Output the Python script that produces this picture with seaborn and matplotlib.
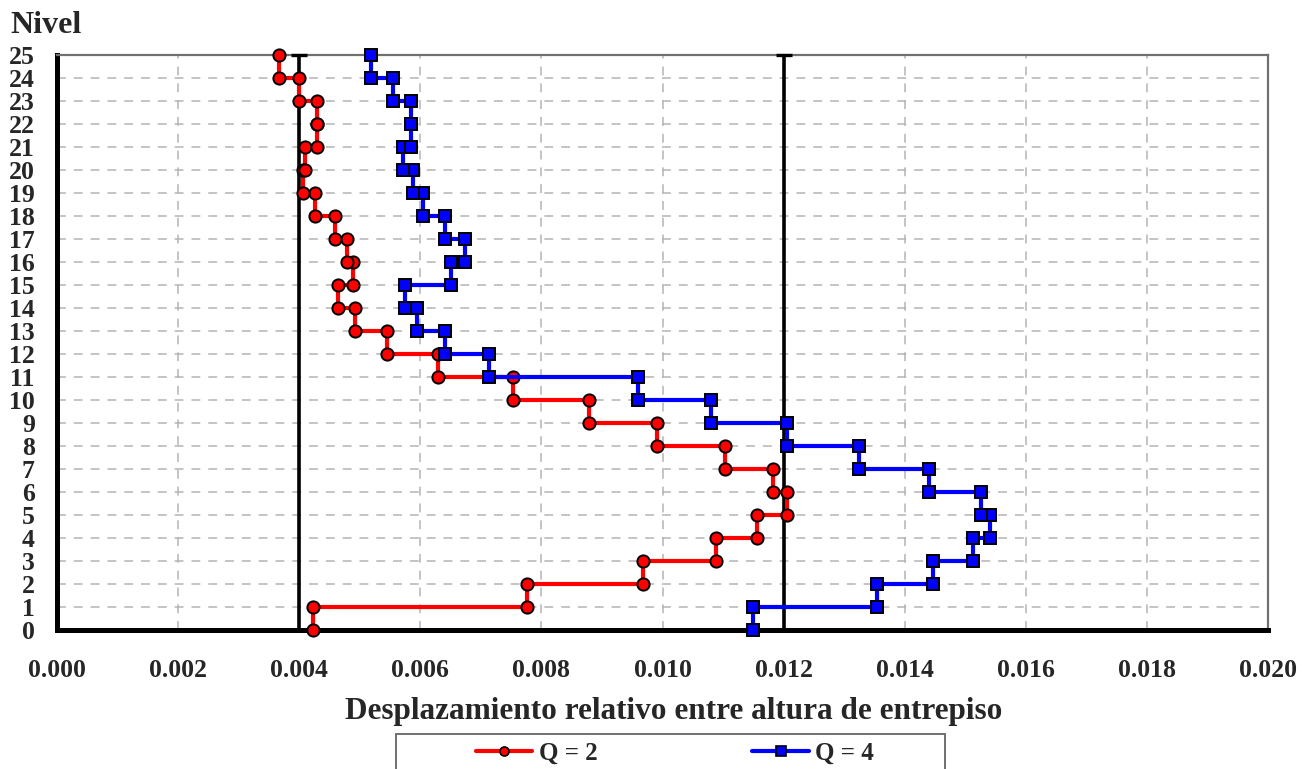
import pandas as pd
import seaborn as sns
import matplotlib.pyplot as plt
from matplotlib.lines import Line2D
from matplotlib.patches import Rectangle

# story drift per level (story 1 .. 25)
niveles = list(range(1, 26))
deriva_q2 = [0.00423, 0.00776, 0.00968, 0.01088, 0.01156, 0.01206, 0.01182, 0.01103,
             0.00991, 0.00879, 0.00753, 0.00629, 0.00545, 0.00492, 0.00464, 0.00489,
             0.00479, 0.00459, 0.00426, 0.00406, 0.00409, 0.00429, 0.00429, 0.00400,
             0.00367]
deriva_q4 = [0.01149, 0.01354, 0.01447, 0.01513, 0.01541, 0.01526, 0.01440, 0.01325,
             0.01206, 0.01080, 0.00960, 0.00713, 0.00641, 0.00595, 0.00575, 0.00651,
             0.00674, 0.00641, 0.00604, 0.00588, 0.00571, 0.00585, 0.00585, 0.00555,
             0.00519]
limites = [0.004, 0.012]
x_ticks = [0.000, 0.002, 0.004, 0.006, 0.008, 0.010, 0.012, 0.014, 0.016, 0.018, 0.020]
series = ["Q = 2", "Q = 4"]


def step_frame(values):
    # each story value is drawn from the level below to the level above
    rows = []
    for n, d in zip(niveles, values):
        rows.append({"deriva": d, "nivel": n - 1})
        rows.append({"deriva": d, "nivel": n})
    return pd.DataFrame(rows)


sns.set_style("white")
plt.rcParams["font.family"] = ["Liberation Serif", "DejaVu Serif"]
plt.rcParams["font.weight"] = "bold"

fig = plt.figure(figsize=(13.13, 7.69), dpi=100)
ax = fig.add_axes([57 / 1313, 1 - 630 / 769, 1211 / 1313, 575 / 769])

# reference limits
eb = ax.errorbar(limites, [12.5] * len(limites), yerr=12.5, fmt="none", ecolor="black",
                 elinewidth=2.6, capsize=6, capthick=2.4, zorder=3)
for art in eb.lines[1] + eb.lines[2]:
    art.set_clip_on(False)

styles = [("#ff0000", "o"), ("#0000ff", "s")]
for vals, (color, mk) in zip([deriva_q2, deriva_q4], styles):
    sns.lineplot(data=step_frame(vals), x="deriva", y="nivel", sort=False, estimator=None,
                 color=color, linewidth=3, marker=mk, markersize=8.8,
                 markerfacecolor=color, markeredgecolor="black", markeredgewidth=1.4,
                 clip_on=False, zorder=4, ax=ax)

ax.set_xlim(0, 0.020)
ax.set_ylim(0, 25)
ax.set_xticks(x_ticks)
ax.set_xticklabels([f"{t:.3f}" for t in x_ticks])
ax.set_yticks(range(0, 26))
ax.grid(True, color="#b4b4b4", linestyle=(0, (5.8, 5.2)), linewidth=1.1)
ax.set_axisbelow(True)

for side in ["left", "bottom"]:
    ax.spines[side].set_linewidth(3.6)
    ax.spines[side].set_color("black")
for side in ["top", "right"]:
    ax.spines[side].set_linewidth(1.6)
    ax.spines[side].set_color("#707070")

ax.tick_params(axis="both", direction="out", length=7, width=3, color="black",
               labelsize=18.5)
ax.tick_params(axis="x", pad=14)
ax.tick_params(axis="y", pad=9)

ax.set_xlabel("Desplazamiento relativo entre altura de entrepiso", fontsize=22.5,
              fontweight="bold", labelpad=11)
ax.xaxis.label.set_x(0.509)
ax.set_ylabel("")
fig.text(10 / 1313, 1 - 33 / 769, "Nivel", fontsize=23, fontweight="bold",
         ha="left", va="baseline")

# legend below the chart, frame runs off the bottom edge
handles = [Line2D([], [], color=c, linewidth=3, marker=m, markersize=6.5,
                  markerfacecolor=c, markeredgecolor="black", markeredgewidth=1.2)
           for c, m in styles]
fig.legend(handles, series, loc="center", bbox_to_anchor=(675 / 1313, 1 - 753 / 769),
           ncol=2, frameon=False, handlelength=2.25, handletextpad=0.25,
           columnspacing=6.2, prop={"weight": "bold", "size": 18})
fig.patches.append(Rectangle((396 / 1313, -0.05), 549 / 1313, (769 - 734) / 769 + 0.05,
                             transform=fig.transFigure, fill=False,
                             edgecolor="#707070", linewidth=1.4))

plt.savefig("out.png", dpi=100)
plt.close()
